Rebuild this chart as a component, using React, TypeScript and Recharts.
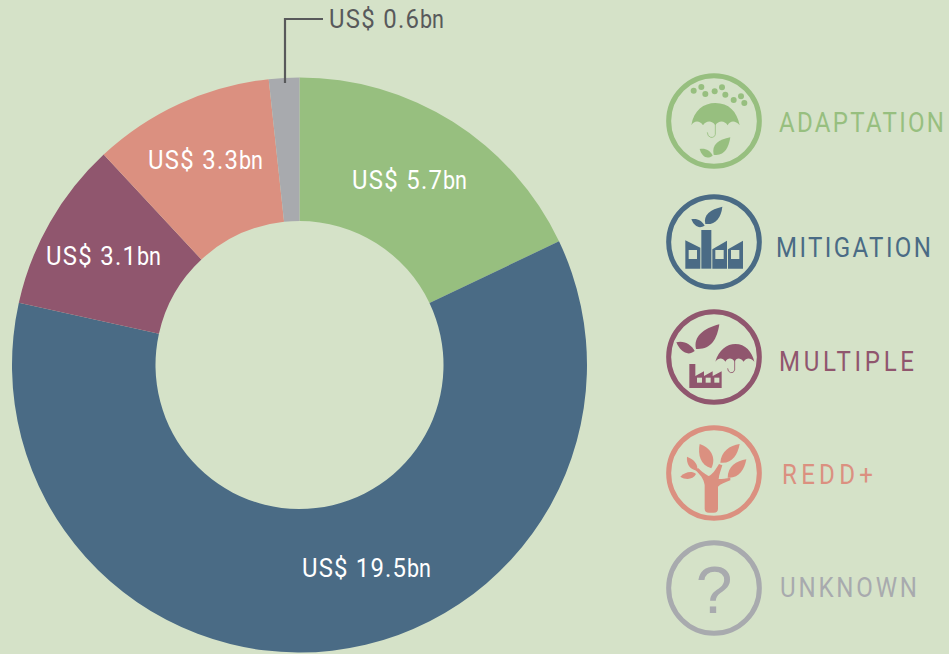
import { Cell, Pie, PieChart } from "recharts";

const BG = "#D5E2C8";
const INK = "#58595B";
const FONT = "Roboto, sans-serif";

const categories = ["ADAPTATION", "MITIGATION", "MULTIPLE", "REDD+", "UNKNOWN"];
const amountLabels = ["5.7", "19.5", "3.1", "3.3", "0.6"];
const amounts = [5.77, 19.5, 3.09, 3.29, 0.55];
const colors = ["#97BF7F", "#4A6B85", "#90566E", "#DB9080", "#A8AAAE"];

const rows = categories.map((name, i) => ({ name, value: amounts[i] }));

// label anchors relative to the pie centre, the labels are hand placed in the original
const labelAnchors = [
    { dx: 52.5, dy: -176, w: 115 },
    { dx: 2.5, dy: 212, w: 129 },
    { dx: -253.5, dy: -100.5, w: 115 },
    { dx: -151.5, dy: -196, w: 115 },
    { dx: 29.5, dy: -337, w: 115 },
];

// where each legend row sits: icon top, text left, text baseline, text width
const legendRows = [
    { top: 73.3, textX: 779, base: 132, textW: 165 },
    { top: 194, textX: 776, base: 257, textW: 155 },
    { top: 309, textX: 779, base: 371, textW: 135 },
    { top: 425, textX: 782, base: 484, textW: 91 },
    { top: 540, textX: 780, base: 597, textW: 137 },
];

const iconOrigins = [40, 402, 27, 375, 720];

function Leaf({ d, fill }: { d: string; fill: string }) {
    return <path d={d} fill={fill} />;
}

function AdaptationArt({ c }: { c: string }) {
    const dots = [[130, 93], [153, 82], [165, 103], [193, 95], [215, 83], [225, 105], [250, 121], [272, 110], [282, 130]];
    return (
        <g>
            {dots.map(([x, y]) => <circle key={`${x}-${y}`} cx={x} cy={y} r={9} fill={c} />)}
            <path fill={c} d="M123 197C130 152 160 130 195 130C235 130 260 155 268 197C255 182 240 182 232 197C222 182 205 182 195 197C185 182 168 182 158 197C148 182 132 182 123 197Z" />
            <path fill="none" stroke={c} strokeWidth={2.5} d="M195 190V224Q192 235 181 233Q171 230 171 218" />
            <Leaf fill={c} d="M240 233C205 240 183 255 190 285C222 290 235 265 240 233Z" />
            <Leaf fill={c} d="M148 268C165 265 180 272 187 288C170 300 155 292 148 268Z" />
        </g>
    );
}

function MitigationArt({ c }: { c: string }) {
    return (
        <g>
            <rect x={153} y={510} width={30} height={116} fill={c} />
            <path fill={c} d="M105 541L150 563V626H105Z" />
            <path fill={c} d="M186 568L230 542V626H186Z" />
            <path fill={c} d="M233 568L278 542V626H233Z" />
            {[115, 195, 242].map((x) => <rect key={x} x={x} y={570} width={25} height={27} fill={BG} />)}
            <Leaf fill={c} d="M216 440C180 448 158 465 165 492C195 495 212 475 216 440Z" />
            <Leaf fill={c} d="M123 478C140 474 155 482 163 497C147 507 132 500 123 478Z" />
        </g>
    );
}

function MultipleArt({ c }: { c: string }) {
    return (
        <g>
            <Leaf fill={c} d="M207 73C160 85 128 110 137 147C180 150 200 120 207 73Z" />
            <Leaf fill={c} d="M78 127C100 120 125 135 133 153C112 170 90 155 78 127Z" />
            <path fill={c} d="M195 185C205 150 230 132 255 132C285 132 305 155 312 185C300 172 288 172 280 185C270 172 258 172 253 185C245 172 232 172 225 185C217 172 205 172 195 185Z" />
            <path fill="none" stroke={c} strokeWidth={2.5} d="M253 180V210Q250 220 241 218Q232 215 232 205" />
            <path fill={c} d="M117 192H135V228L161 214V228L187 214V228L214 214V264H117Z" />
            {[140, 166, 192].map((x) => <rect key={x} x={x} y={233} width={15} height={15} fill={BG} />)}
        </g>
    );
}

function ReddArt({ c }: { c: string }) {
    return (
        <g>
            <path fill={c} d="M163 555C160 535 150 525 135 510L143 504C155 515 168 525 175 528C185 525 195 510 206 492L216 496C212 510 206 525 205 537C215 537 228 535 240 533L240 541C225 547 210 552 203 560V626Q203 638 190 638H176Q163 638 163 626Z" />
            <Leaf fill={c} d="M148 432C178 442 200 470 183 505C150 495 142 465 148 432Z" />
            <Leaf fill={c} d="M268 432C238 436 212 455 210 488C245 492 262 465 268 432Z" />
            <Leaf fill={c} d="M288 478C258 482 232 500 232 533C265 536 282 510 288 478Z" />
            <Leaf fill={c} d="M110 470C132 478 145 495 140 512C118 508 108 492 110 470Z" />
            <Leaf fill={c} d="M90 530C105 515 125 512 137 522C128 540 105 540 90 530Z" />
        </g>
    );
}

function UnknownArt({ c }: { c: string }) {
    return (
        <text x={191} y={938} textAnchor="middle" fontFamily="'Liberation Sans', sans-serif" fontSize={198} fill={c}>
            ?
        </text>
    );
}

const iconArt = [AdaptationArt, MitigationArt, MultipleArt, ReddArt, UnknownArt];

function LegendIcon({ index }: { index: number }) {
    const Art = iconArt[index];
    const c = colors[index];
    const y0 = iconOrigins[index];
    return (
        <svg
            width={96}
            height={96}
            viewBox={`47 ${y0} 288 288`}
            style={{ position: "absolute", left: 665.7, top: legendRows[index].top }}
        >
            <circle cx={191} cy={y0 + 144} r={136} fill="none" stroke={c} strokeWidth={15} />
            <Art c={c} />
        </svg>
    );
}

// the original face is narrower and more open than anything installed,
// so squeeze the glyphs and win the width back as letter spacing
function SqueezedText({ x, y, w, sx, size, fill, text }: any) {
    return (
        <text
            transform={`translate(${x},${y}) scale(${sx},1)`}
            fontFamily={FONT}
            fontSize={size}
            textLength={w / sx}
            lengthAdjust="spacing"
            fill={fill}
        >
            {text}
        </text>
    );
}

function SliceLabel(props: any) {
    const { cx, cy, index } = props;
    const a = labelAnchors[index];
    const x = cx + a.dx;
    const y = cy + a.dy;
    const isSmall = index === 4;
    const fill = isSmall ? INK : "#FFFFFF";
    const bnW = 24;
    return (
        <g>
            {isSmall && (
                <polyline
                    points={`${x - 6},${y - 9} ${x - 44},${y - 9} ${x - 44},${y + 55}`}
                    fill="none"
                    stroke={INK}
                    strokeWidth={2.2}
                />
            )}
            <SqueezedText x={x} y={y} w={a.w - bnW - 1} sx={0.92} size={26} fill={fill} text={`US$ ${amountLabels[index]}`} />
            <text
                x={x + a.w - bnW}
                y={y}
                fontFamily={FONT}
                fontSize={25}
                textLength={bnW}
                lengthAdjust="spacingAndGlyphs"
                fill={fill}
            >
                bn
            </text>
        </g>
    );
}

export default function App() {
    return (
        <div style={{ position: "absolute", left: 0, top: 0, width: 949, height: 654, background: BG, overflow: "hidden" }}>
            <PieChart width={949} height={654} margin={{ top: 0, right: 0, bottom: 0, left: 0 }}>
                <Pie
                    data={rows}
                    dataKey="value"
                    nameKey="name"
                    cx={299.5}
                    cy={365}
                    innerRadius={144}
                    outerRadius={287.5}
                    startAngle={90}
                    endAngle={-270}
                    stroke="none"
                    label={SliceLabel}
                    labelLine={false}
                    isAnimationActive={false}
                >
                    {rows.map((r, i) => (
                        <Cell key={r.name} fill={colors[i]} />
                    ))}
                </Pie>
            </PieChart>
            {categories.map((name, i) => (
                <LegendIcon key={name} index={i} />
            ))}
            <svg width={949} height={654} style={{ position: "absolute", left: 0, top: 0, pointerEvents: "none" }}>
                {categories.map((name, i) => (
                    <SqueezedText
                        key={name}
                        x={legendRows[i].textX}
                        y={legendRows[i].base}
                        w={legendRows[i].textW}
                        sx={0.86}
                        size={28}
                        fill={colors[i]}
                        text={name}
                    />
                ))}
            </svg>
        </div>
    );
}
